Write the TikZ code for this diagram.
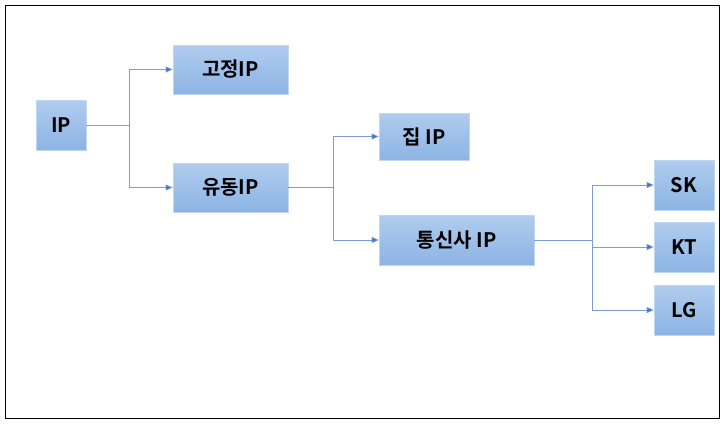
\documentclass[tikz,border=0pt]{standalone}
\usepackage{fontspec}
\newfontfamily\kr{Noto Sans CJK KR Bold}
\usetikzlibrary{arrows.meta, positioning}
\definecolor{boxtop}{RGB}{176,204,238}
\definecolor{boxbot}{RGB}{140,180,228}
\definecolor{linkblue}{RGB}{68,114,196}
\tikzset{
    box/.style={top color=boxtop, bottom color=boxbot, draw=boxtop!80!white, line width=0.6pt,
        inner sep=0pt, font=\kr\fontsize{20}{24}\selectfont},
    link/.style={draw=linkblue!70, line width=0.7pt, -{Triangle[length=7pt,width=6pt,fill=linkblue]}}
}
\begin{document}
\begin{tikzpicture}[x=1pt, y=-1pt]
    \useasboundingbox (0,0) rectangle (725,424);
    \draw[black, line width=0.8pt] (5,5) rectangle (719,418);

    % Nodes
    \node[box, minimum width=50pt, minimum height=50pt] (ip) at (61,125) {IP};
    \node[box, minimum width=115pt, minimum height=49pt] (fixed) at (230.5,69.5) {고정IP};
    \node[box, minimum width=115pt, minimum height=49pt] (dynamic) at (230.5,187.5) {유동IP};
    \node[box, minimum width=90pt, minimum height=47pt] (home) at (424,136.5) {집 IP};
    \node[box, minimum width=155pt, minimum height=50pt] (carrier) at (456.5,240) {통신사 IP};
    \node[box, minimum width=60pt, minimum height=50pt] (sk) at (684,185) {SK};
    \node[box, minimum width=60pt, minimum height=50pt] (kt) at (684,247) {KT};
    \node[box, minimum width=60pt, minimum height=50pt] (lg) at (684,310) {LG};

    % Connectors
    \draw[link] (ip.east) -- ++(43,0) |- (fixed.west);
    \draw[link] (ip.east) -- ++(43,0) |- (dynamic.west);
    \draw[link] (dynamic.east) -- ++(45,0) |- (home.west);
    \draw[link] (dynamic.east) -- ++(45,0) |- (carrier.west);
    \draw[link] (carrier.east) -- ++(58,0) |- (sk.west);
    \draw[link] (carrier.east) -- ++(58,0) |- (kt.west);
    \draw[link] (carrier.east) -- ++(58,0) |- (lg.west);
\end{tikzpicture}
\end{document}
